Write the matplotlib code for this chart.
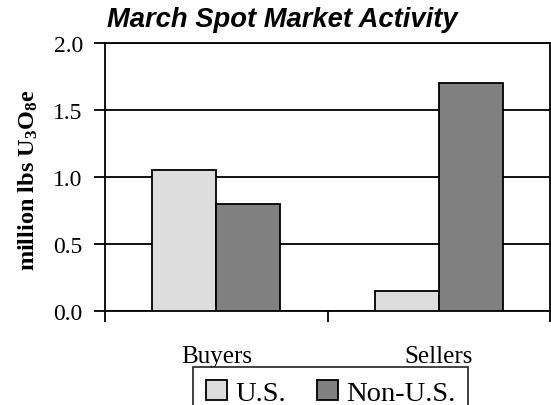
import numpy as np
import matplotlib
matplotlib.use("Agg")
import matplotlib.pyplot as plt
from matplotlib.ticker import FixedLocator, NullFormatter, FixedFormatter

categories = ['Buyers', 'Sellers']
us = [1.05, 0.15]
non_us = [0.80, 1.70]
series_names = ['U.S.', 'Non-U.S.']
yticks = [0.0, 0.5, 1.0, 1.5, 2.0]

plt.rcParams['font.family'] = ['Liberation Serif', 'DejaVu Serif']

fig = plt.figure(figsize=(5.51, 4.06), dpi=100)
ax = fig.add_axes([105 / 551, 1 - 311.7 / 406, 445 / 551, (311.7 - 44) / 406])

x = np.arange(len(categories))
w = 0.287
ax.bar(x - w / 2, us, w, color='#dddddd', edgecolor='black', linewidth=1.3,
       label=series_names[0], zorder=3)
ax.bar(x + w / 2, non_us, w, color='#808080', edgecolor='black', linewidth=1.3,
       label=series_names[1], zorder=3)

ax.set_xlim(-0.5, len(categories) - 0.5)
ax.set_ylim(0, 2.0)

ax.set_yticks(yticks)
ax.set_yticklabels([f'{v:.1f}' for v in yticks])
ax.yaxis.grid(True, color='black', linewidth=1.3, zorder=0)

# category boundaries get the ticks, labels sit in between
ax.xaxis.set_major_locator(FixedLocator(np.arange(len(categories) + 1) - 0.5))
ax.xaxis.set_major_formatter(NullFormatter())
ax.xaxis.set_minor_locator(FixedLocator(x))
ax.xaxis.set_minor_formatter(FixedFormatter(categories))
ax.tick_params(axis='x', which='major', direction='out', length=8, width=1.3)
ax.tick_params(axis='x', which='minor', length=0, pad=25, labelsize=18)
ax.tick_params(axis='y', direction='out', length=8, width=1.3, pad=8, labelsize=17)

for side in ['left', 'bottom', 'right', 'top']:
    ax.spines[side].set_linewidth(1.3)

ax.set_ylabel('million lbs U$\\mathregular{_3}$O$\\mathregular{_8}$e',
              fontsize=17.5, fontweight='bold')
ax.yaxis.set_label_coords(-0.147, 0.49)

fig.text(0.513, 0.951, 'March Spot Market Activity', ha='center', va='center',
         fontsize=19.7, fontweight='bold', fontstyle='italic',
         family=['Liberation Sans', 'DejaVu Sans'])

leg = fig.legend(loc='upper center', bbox_to_anchor=(330.5 / 551, 1 - 368 / 406),
                 ncol=2, fontsize=20.5, frameon=True, fancybox=False,
                 edgecolor='black', handlelength=0.74, handleheight=0.74,
                 handletextpad=0.28, columnspacing=1.1, borderpad=0.45,
                 borderaxespad=0)
leg.get_frame().set_linewidth(1.3)

fig.savefig('out.png', dpi=100)
